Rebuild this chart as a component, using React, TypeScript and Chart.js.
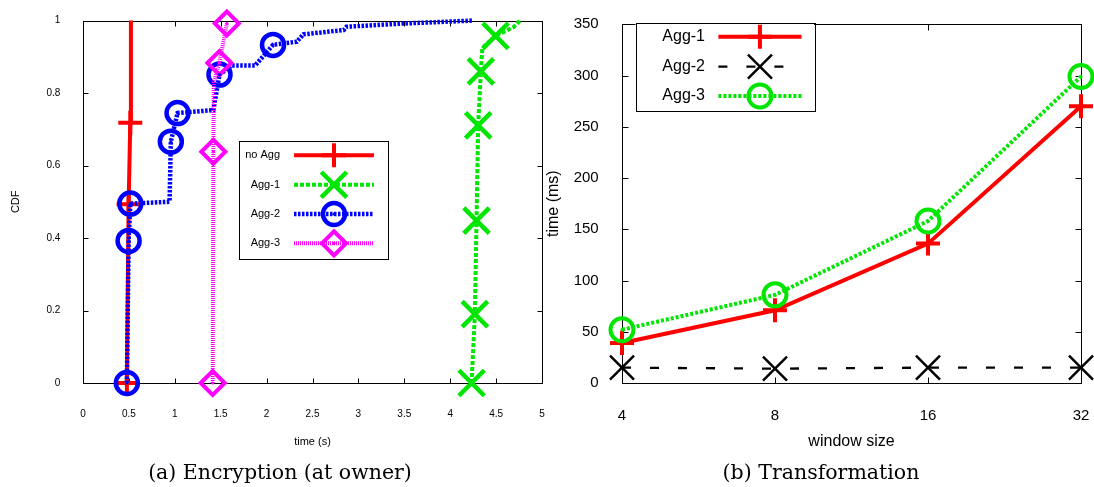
import React, { useEffect, useRef } from "react";
import { Chart, registerables } from "chart.js";

Chart.register(...registerables);

// ---------------- Panel (a): Encryption (at owner) — CDF ----------------
const cdfXTicksMax = 5;
const cdfYTicksMax = 1;

const noAggX = [0.478, 0.497, 0.515, 0.522];
const noAggY = [0, 0.493, 0.718, 1.0];
const noAggMark = [1, 1, 1, 0];

const agg1X = [4.233, 4.269, 4.287, 4.305, 4.334, 4.35, 4.494, 4.69, 4.76];
const agg1Y = [0, 0.19, 0.448, 0.711, 0.86, 0.924, 0.958, 0.982, 1.0];
const agg1Mark = [1, 1, 1, 1, 1, 0, 1, 0, 0];

const agg2X = [0.478, 0.497, 0.515, 0.943, 0.957, 1.03, 1.42, 1.487, 1.62, 1.875, 2.07, 2.33, 2.4, 2.84, 2.87, 3.49, 4.24];
const agg2Y = [0, 0.392, 0.495, 0.5, 0.666, 0.745, 0.753, 0.851, 0.876, 0.876, 0.933, 0.942, 0.962, 0.974, 0.983, 0.992, 1.0];
const agg2Mark = [1, 1, 1, 0, 1, 1, 0, 1, 0, 0, 1, 0, 0, 0, 0, 0, 0];

const agg3X = [1.413, 1.42, 1.425, 1.486, 1.567];
const agg3Y = [0, 0.638, 0.83, 0.883, 0.992];
const agg3Mark = [1, 1, 0, 1, 1];

const cdfLabels = ["no Agg", "Agg-1", "Agg-2", "Agg-3"];

// ---------------- Panel (b): Transformation ----------------
const windowSizes = ["4", "8", "16", "32"];
const tAgg1 = [39, 71, 136, 270];
const tAgg2 = [15, 14, 15, 15];
const tAgg3 = [52, 86, 158, 299];
const transLabels = ["Agg-1", "Agg-2", "Agg-3"];

const SANS = "'Liberation Sans', Arial, Helvetica, sans-serif";

function drawMarker(ctx: CanvasRenderingContext2D, style: string, x: number, y: number, r: number) {
  ctx.beginPath();
  if (style === "cross") {
    ctx.moveTo(x - r, y); ctx.lineTo(x + r, y);
    ctx.moveTo(x, y - r); ctx.lineTo(x, y + r);
  } else if (style === "crossRot") {
    const d = r * Math.SQRT1_2;
    ctx.moveTo(x - d, y - d); ctx.lineTo(x + d, y + d);
    ctx.moveTo(x - d, y + d); ctx.lineTo(x + d, y - d);
  } else if (style === "circle") {
    ctx.arc(x, y, r, 0, Math.PI * 2);
  } else if (style === "rectRot") {
    ctx.moveTo(x - r, y); ctx.lineTo(x, y - r); ctx.lineTo(x + r, y); ctx.lineTo(x, y + r); ctx.closePath();
  }
  ctx.stroke();
  if (style === "circle" || style === "rectRot") {
    ctx.beginPath();
    ctx.fillStyle = ctx.strokeStyle;
    ctx.arc(x, y, 1.6, 0, Math.PI * 2);
    ctx.fill();
  }
}

const framePlugin = {
  id: "gnuFrame",
  beforeDatasetsDraw(chart: any, _a: any, o: any) {
    const { ctx, chartArea: ca, scales } = chart;
    const L = o.tickLen || 5;
    ctx.save();
    ctx.strokeStyle = "#000";
    ctx.lineWidth = 1;
    const l = Math.round(ca.left) + 0.5, r = Math.round(ca.right) + 0.5;
    const t = Math.round(ca.top) + 0.5, b = Math.round(ca.bottom) + 0.5;
    ctx.beginPath();
    scales.x.ticks.forEach((_t: any, i: number) => {
      const px = Math.round(scales.x.getPixelForTick(i)) + 0.5;
      ctx.moveTo(px, b); ctx.lineTo(px, b - L);
      ctx.moveTo(px, t); ctx.lineTo(px, t + L);
    });
    scales.y.ticks.forEach((_t: any, i: number) => {
      const py = Math.round(scales.y.getPixelForTick(i)) + 0.5;
      ctx.moveTo(l, py); ctx.lineTo(l + L, py);
      ctx.moveTo(r, py); ctx.lineTo(r - L, py);
    });
    ctx.stroke();
    ctx.strokeRect(l, t, r - l, b - t);
    ctx.restore();
  },
  afterDatasetsDraw(chart: any) {
    // small centre dot inside hollow markers (gnuplot style)
    const ctx: CanvasRenderingContext2D = chart.ctx;
    ctx.save();
    chart.data.datasets.forEach((ds: any, i: number) => {
      if (ds.pointStyle !== "circle" && ds.pointStyle !== "rectRot") return;
      const meta = chart.getDatasetMeta(i);
      meta.data.forEach((pt: any, j: number) => {
        const r = Array.isArray(ds.pointRadius) ? ds.pointRadius[j] : ds.pointRadius;
        if (!r) return;
        ctx.beginPath();
        ctx.fillStyle = ds.pointBorderColor;
        ctx.arc(pt.x, pt.y, 1.6, 0, Math.PI * 2);
        ctx.fill();
      });
    });
    ctx.restore();
  },
};

const legendPlugin = {
  id: "gnuLegend",
  afterDatasetsDraw(chart: any, _a: any, o: any) {
    const ctx: CanvasRenderingContext2D = chart.ctx;
    ctx.save();
    ctx.fillStyle = "#fff";
    ctx.fillRect(o.x, o.y, o.w, o.h);
    ctx.strokeStyle = "#000";
    ctx.lineWidth = 1;
    ctx.strokeRect(Math.round(o.x) + 0.5, Math.round(o.y) + 0.5, Math.round(o.w), Math.round(o.h));
    ctx.font = `${o.fontSize}px ${SANS}`;
    ctx.textAlign = "right";
    ctx.textBaseline = "middle";
    chart.data.datasets.forEach((ds: any, i: number) => {
      const y = o.rows[i];
      ctx.fillStyle = "#000";
      ctx.fillText(ds.label, o.textRight, y);
      ctx.strokeStyle = ds.borderColor;
      ctx.lineWidth = ds.borderWidth;
      ctx.setLineDash(ds.borderDash || []);
      ctx.beginPath();
      ctx.moveTo(o.lineStart, y);
      ctx.lineTo(o.lineEnd, y);
      ctx.stroke();
      ctx.setLineDash([]);
      ctx.strokeStyle = ds.pointBorderColor;
      ctx.lineWidth = ds.pointBorderWidth;
      const rad = Array.isArray(ds.pointRadius) ? Math.max(...ds.pointRadius) : ds.pointRadius;
      drawMarker(ctx, ds.pointStyle, (o.lineStart + o.lineEnd) / 2, y, rad);
    });
    ctx.restore();
  },
};

function xy(xs: number[], ys: number[]) {
  return xs.map((x, i) => ({ x, y: ys[i] }));
}

function series(label: string, data: any, color: string, style: string, radius: any, lineWidth: number, dash: number[], markWidth: number, order: number) {
  return {
    label,
    data,
    borderColor: color,
    borderWidth: lineWidth,
    borderDash: dash,
    pointStyle: style,
    pointRadius: radius,
    pointHoverRadius: radius,
    pointBorderColor: color,
    pointBackgroundColor: "rgba(0,0,0,0)",
    pointBorderWidth: markWidth,
    tension: 0,
    fill: false,
    clip: false,
    order,
  };
}

const plainNum = (v: any) => String(Number(Number(v).toFixed(2)));
const noSidePad = (s: any) => { s.paddingLeft = 0; s.paddingRight = 0; };

export default function App() {
  const c1 = useRef<HTMLCanvasElement>(null);
  const c2 = useRef<HTMLCanvasElement>(null);

  useEffect(() => {
    const chart1 = new Chart(c1.current as HTMLCanvasElement, {
      type: "line",
      data: {
        datasets: [
          series(cdfLabels[0], xy(noAggX, noAggY), "#ff0000", "cross", noAggMark.map((m) => (m ? 12 : 0)), 4, [], 4, 4),
          series(cdfLabels[1], xy(agg1X, agg1Y), "#00e600", "crossRot", agg1Mark.map((m) => (m ? 18 : 0)), 4, [4, 2], 4.5, 3),
          series(cdfLabels[2], xy(agg2X, agg2Y), "#0000ff", "circle", agg2Mark.map((m) => (m ? 11 : 0)), 4.5, [2.5, 1.5], 4.5, 2),
          series(cdfLabels[3], xy(agg3X, agg3Y), "#ff00ff", "rectRot", agg3Mark.map((m) => (m ? 12 : 0)), 4, [1, 1], 4, 1),
        ] as any,
      },
      options: {
        responsive: false,
        animation: false,
        events: [],
        layout: { autoPadding: false, padding: { left: 0, right: 8, top: 15, bottom: 0 } },
        plugins: {
          legend: { display: false },
          tooltip: { enabled: false },
          gnuFrame: { tickLen: 5 },
          gnuLegend: {
            x: 238.5, y: 140.5, w: 149, h: 118, fontSize: 11,
            textRight: 280, lineStart: 294, lineEnd: 374,
            rows: [155.3, 184.7, 214, 243.3],
          },
        } as any,
        scales: {
          x: {
            type: "linear",
            min: 0,
            max: cdfXTicksMax,
            grid: { display: false },
            border: { display: false },
            ticks: { stepSize: 0.5, autoSkip: false, maxRotation: 0, padding: 17.7, color: "#000", font: { family: SANS, size: 10 }, callback: plainNum },
            title: { display: true, text: "time (s)", color: "#000", font: { family: SANS, size: 11 }, padding: { top: 0, bottom: 11.7 } },
            afterFit: (s: any) => { s.height = 77; noSidePad(s); },
          },
          y: {
            type: "linear",
            min: 0,
            max: cdfYTicksMax,
            grid: { display: false },
            border: { display: false },
            ticks: { stepSize: 0.2, autoSkip: false, padding: 14.6, color: "#000", font: { family: SANS, size: 10 }, callback: plainNum },
            title: { display: true, text: "CDF", color: "#000", font: { family: SANS, size: 11 }, padding: { top: 9, bottom: 0 } },
            afterFit: (s: any) => { s.width = 83; },
          },
        },
      } as any,
      plugins: [framePlugin, legendPlugin] as any,
    });

    const chart2 = new Chart(c2.current as HTMLCanvasElement, {
      type: "line",
      data: {
        labels: windowSizes,
        datasets: [
          series(transLabels[0], tAgg1, "#ff0000", "cross", 12, 4, [], 4, 3),
          series(transLabels[1], tAgg2, "#000000", "crossRot", 17, 2.3, [9, 19], 2.5, 2),
          series(transLabels[2], tAgg3, "#00e600", "circle", 11.5, 4, [3, 2], 4, 1),
        ] as any,
      },
      options: {
        responsive: false,
        animation: false,
        events: [],
        layout: { autoPadding: false, padding: { left: 0, right: 13, top: 17, bottom: 0 } },
        plugins: {
          legend: { display: false },
          tooltip: { enabled: false },
          gnuFrame: { tickLen: 6 },
          gnuLegend: {
            x: 95.5, y: 22.5, w: 178.5, h: 88, fontSize: 16,
            textRight: 165, lineStart: 178.4, lineEnd: 261.5,
            rows: [36.7, 66.7, 96],
          },
        } as any,
        scales: {
          x: {
            type: "category",
            offset: false,
            grid: { display: false },
            border: { display: false },
            ticks: { autoSkip: false, maxRotation: 0, padding: 16, color: "#000", font: { family: SANS, size: 15 } },
            title: { display: true, text: "window size", color: "#000", font: { family: SANS, size: 16 }, padding: { top: 0, bottom: 8.7 } },
            afterFit: (s: any) => { s.height = 77; noSidePad(s); },
          },
          y: {
            type: "linear",
            min: 0,
            max: 350,
            grid: { display: false },
            border: { display: false },
            ticks: { stepSize: 50, autoSkip: false, padding: 15.3, color: "#000", font: { family: SANS, size: 15 } },
            title: { display: true, text: "time (ms)", color: "#000", font: { family: SANS, size: 16 }, padding: { top: 4.4, bottom: 0 } },
            afterFit: (s: any) => { s.width = 82; },
          },
        },
      } as any,
      plugins: [framePlugin, legendPlugin] as any,
    });

    return () => {
      chart1.destroy();
      chart2.destroy();
    };
  }, []);

  const caption: React.CSSProperties = {
    position: "absolute",
    top: 459,
    width: 400,
    textAlign: "center",
    fontFamily: "'DejaVu Serif', serif",
    fontSize: 20.5,
    lineHeight: "26px",
    color: "#000",
    whiteSpace: "nowrap",
  };

  return (
    <div style={{ position: "fixed", left: 0, top: 0, width: 1094, height: 487, background: "#fff", overflow: "hidden" }}>
      <canvas ref={c1} width={550} height={460} style={{ position: "absolute", left: 0, top: 0, width: 550, height: 460 }} />
      <canvas ref={c2} width={554} height={460} style={{ position: "absolute", left: 540, top: 0, width: 554, height: 460 }} />
      <div style={{ ...caption, left: 280 - 200 }}>(a) Encryption (at owner)</div>
      <div style={{ ...caption, left: 821 - 200 }}>(b) Transformation</div>
    </div>
  );
}
